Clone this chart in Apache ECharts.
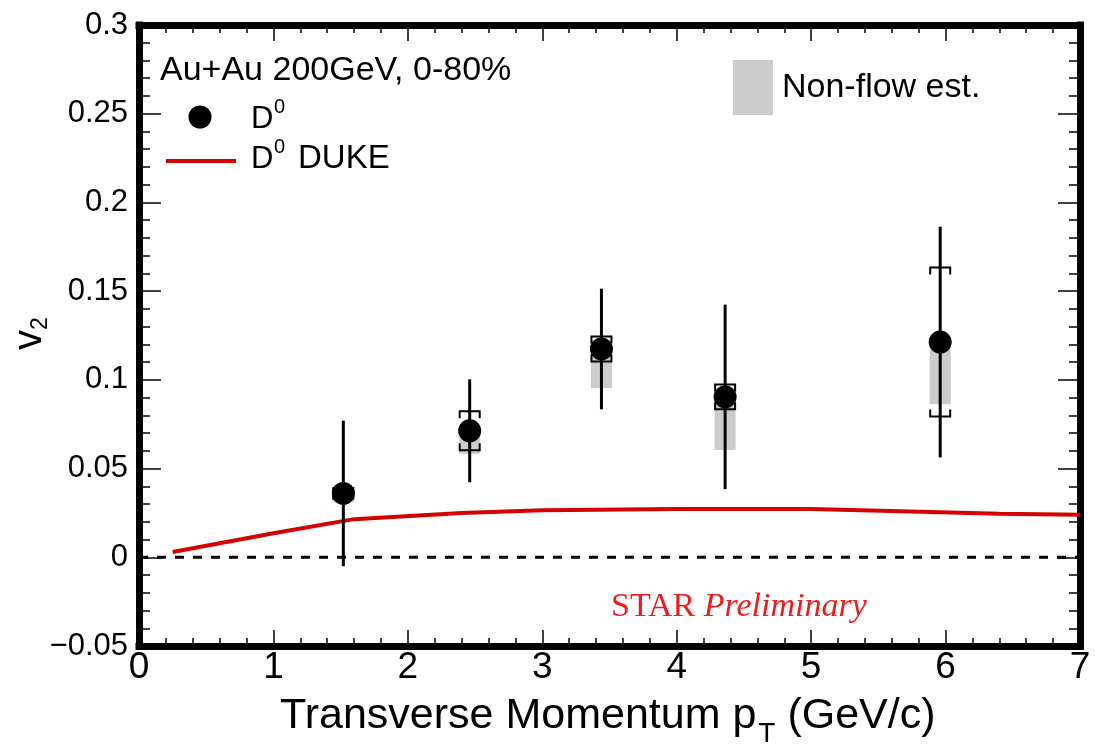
<!DOCTYPE html>
<html>
<head>
<meta charset="utf-8">
<script src="https://cdn.jsdelivr.net/npm/echarts@6/dist/echarts.min.js"></script>
<style>
  html, body { margin: 0; padding: 0; background: #ffffff; }
  #chart { width: 1095px; height: 747px; }
</style>
</head>
<body>
<div id="chart"></div>
<script>
// D0 v2 measurements, Au+Au 200 GeV, 0-80% centrality
const ptD0    = [1.52, 2.46, 3.44, 4.36, 5.96];
const v2D0    = [0.036, 0.0713, 0.1174, 0.0904, 0.1213];
const statErr = [0.041, 0.029, 0.034, 0.052, 0.065];
const sysErr  = [0.003, 0.011, 0.007, 0.007, 0.042];
const nonFlow = [0.005, 0.013, 0.022, 0.030, 0.035];

// DUKE model curve for D0
const ptDuke = [0.25, 1.0, 1.6, 2.4, 3.0, 4.0, 5.0, 6.4, 7.0];
const v2Duke = [0.003, 0.0135, 0.0215, 0.025, 0.0265, 0.0272, 0.0272, 0.0245, 0.024];

// axis ranges and tick spacing
const xRange = [0, 7];
const xStep = 1;
const yRange = [-0.05, 0.3];
const yStep = 0.05;

const SANS = "'Liberation Sans', Arial, Helvetica, sans-serif";
const SERIF = "'Liberation Serif', 'Times New Roman', serif";
const RED = '#d40000';

function textWidth(str, font) {
  const c = document.createElement('canvas').getContext('2d');
  c.font = font;
  return c.measureText(str).width;
}

function yLabel(v) {
  const r = Math.round(v * 100) / 100;
  if (r === 0) return '0';
  return r < 0 ? '\u2212' + String(-r) : String(r);
}

const chart = echarts.init(document.getElementById('chart'), null, { renderer: 'canvas' });

const frameLine = { onZero: false, lineStyle: { color: '#000', width: 7, cap: 'square' } };
function xAxisDef(pos, labels) {
  return {
    type: 'value', position: pos, min: xRange[0], max: xRange[1], interval: xStep,
    axisLine: frameLine,
    axisTick: { show: true, inside: true, length: 16, lineStyle: { color: '#000', width: 1.5 } },
    minorTick: { show: true, splitNumber: 5, length: 8, lineStyle: { color: '#000', width: 1.5 } },
    splitLine: { show: false }, minorSplitLine: { show: false },
    axisLabel: labels ? {
      show: true, color: '#000', fontFamily: SANS, fontSize: 37, margin: 3,
      showMinLabel: true, showMaxLabel: true, hideOverlap: false,
      formatter: v => String(Math.round(v))
    } : { show: false }
  };
}
function yAxisDef(pos, labels) {
  return {
    type: 'value', position: pos, min: yRange[0], max: yRange[1], interval: yStep,
    axisLine: frameLine,
    axisTick: { show: true, inside: true, length: 22, lineStyle: { color: '#000', width: 1.5 } },
    minorTick: { show: true, splitNumber: 5, length: 11, lineStyle: { color: '#000', width: 1.5 } },
    splitLine: { show: false }, minorSplitLine: { show: false },
    axisLabel: labels ? {
      show: true, color: '#000', fontFamily: SANS, fontSize: 31, margin: 11,
      showMinLabel: true, showMaxLabel: true, hideOverlap: false,
      formatter: yLabel
    } : { show: false }
  };
}

const d0Rows = ptD0.map((p, i) => [p, v2D0[i], statErr[i], sysErr[i], nonFlow[i]]);

// grey non-flow band: from v2 down to v2 - nonflow
function renderNonFlow(params, api) {
  const x = api.value(0), y = api.value(1), nf = api.value(4);
  const a = api.coord([x, y]);
  const b = api.coord([x, y - nf]);
  return {
    type: 'rect',
    shape: { x: a[0] - 10.5, y: a[1], width: 21, height: b[1] - a[1] },
    style: { fill: '#cccccc' }
  };
}

// systematic uncertainty brackets
function renderSys(params, api) {
  const x = api.value(0), y = api.value(1), e = api.value(3);
  const t = api.coord([x, y + e]);
  const b = api.coord([x, y - e]);
  const hw = 10, hook = 7;
  const st = { stroke: '#000', lineWidth: 2, fill: null };
  return {
    type: 'group',
    children: [
      { type: 'polyline', shape: { points: [[t[0] - hw, t[1] + hook], [t[0] - hw, t[1]], [t[0] + hw, t[1]], [t[0] + hw, t[1] + hook]] }, style: st },
      { type: 'polyline', shape: { points: [[b[0] - hw, b[1] - hook], [b[0] - hw, b[1]], [b[0] + hw, b[1]], [b[0] + hw, b[1] - hook]] }, style: st }
    ]
  };
}

// statistical error bars
function renderStat(params, api) {
  const x = api.value(0), y = api.value(1), e = api.value(2);
  const t = api.coord([x, y + e]);
  const b = api.coord([x, y - e]);
  return {
    type: 'line',
    shape: { x1: t[0], y1: t[1], x2: b[0], y2: b[1] },
    style: { stroke: '#000', lineWidth: 3 }
  };
}

// plot area box
const G = { left: 139, right: 15, top: 25, bottom: 101 };

const xTitleFont = '43px ' + SANS;
const xSubFont = '28px ' + SANS;
const xTitleMain = 'Transverse Momentum p';
const xTitleTail = ' (GeV/c)';
const xTitleLeft = 280;
const xMainW = textWidth(xTitleMain, xTitleFont);
const subW = textWidth('T', xSubFont);

const starFont = '34px ' + SERIF;
const starW = textWidth('STAR ', starFont);

const option = {
  animation: false,
  backgroundColor: '#ffffff',
  grid: G,
  xAxis: [xAxisDef('bottom', true), xAxisDef('top', false)],
  yAxis: [yAxisDef('left', true), yAxisDef('right', false)],
  series: [
    {
      name: 'Non-flow est.', type: 'custom', renderItem: renderNonFlow,
      data: d0Rows, encode: { x: 0, y: 1 }, z: 2, silent: true
    },
    {
      name: 'zero', type: 'line', data: [[xRange[0], 0], [xRange[1], 0]],
      symbol: 'none', lineStyle: { color: '#000', width: 3, type: [9, 9] }, z: 3, silent: true
    },
    {
      name: 'D0 DUKE', type: 'line', data: ptDuke.map((p, i) => [p, v2Duke[i]]),
      symbol: 'none', smooth: false, lineStyle: { color: RED, width: 4 }, z: 4, silent: true
    },
    {
      name: 'sys', type: 'custom', renderItem: renderSys,
      data: d0Rows, encode: { x: 0, y: 1 }, z: 5, silent: true
    },
    {
      name: 'stat', type: 'custom', renderItem: renderStat,
      data: d0Rows, encode: { x: 0, y: 1 }, z: 6, silent: true
    },
    {
      name: 'D0', type: 'scatter', data: ptD0.map((p, i) => [p, v2D0[i]]),
      symbol: 'circle', symbolSize: 23, itemStyle: { color: '#000', opacity: 1 }, z: 7, silent: true
    }
  ],
  graphic: [
    // legend block
    { type: 'text', x: 160, y: 71, style: { text: 'Au+Au 200GeV, 0-80%', font: '34px ' + SANS, fill: '#000', align: 'left', verticalAlign: 'middle' } },
    { type: 'circle', shape: { cx: 200, cy: 117, r: 11.5 }, style: { fill: '#000' } },
    { type: 'text', x: 251, y: 119, style: { text: 'D', font: '31px ' + SANS, fill: '#000', align: 'left', verticalAlign: 'middle' } },
    { type: 'text', x: 274, y: 107, style: { text: '0', font: '20px ' + SANS, fill: '#000', align: 'left', verticalAlign: 'middle' } },
    { type: 'line', shape: { x1: 166, y1: 161, x2: 236, y2: 161 }, style: { stroke: RED, lineWidth: 4 } },
    { type: 'text', x: 251, y: 159, style: { text: 'D', font: '31px ' + SANS, fill: '#000', align: 'left', verticalAlign: 'middle' } },
    { type: 'text', x: 274, y: 147, style: { text: '0', font: '20px ' + SANS, fill: '#000', align: 'left', verticalAlign: 'middle' } },
    { type: 'text', x: 298, y: 159, style: { text: 'DUKE', font: '33px ' + SANS, fill: '#000', align: 'left', verticalAlign: 'middle' } },
    { type: 'rect', shape: { x: 733, y: 60, width: 40, height: 55 }, style: { fill: '#cccccc' } },
    { type: 'text', x: 782, y: 88, style: { text: 'Non-flow est.', font: '34px ' + SANS, fill: '#000', align: 'left', verticalAlign: 'middle' } },

    // preliminary tag
    { type: 'text', x: 611, y: 607, style: { text: 'STAR', font: starFont, fill: '#ee1c1c', align: 'left', verticalAlign: 'middle' } },
    { type: 'text', x: 611 + starW, y: 607, style: { text: 'Preliminary', font: 'italic ' + starFont, fill: '#ee1c1c', align: 'left', verticalAlign: 'middle' } },

    // x axis title with subscript
    { type: 'text', x: xTitleLeft, y: 716, style: { text: xTitleMain, font: xTitleFont, fill: '#000', align: 'left', verticalAlign: 'middle' } },
    { type: 'text', x: xTitleLeft + xMainW + 2, y: 734, style: { text: 'T', font: xSubFont, fill: '#000', align: 'left', verticalAlign: 'middle' } },
    { type: 'text', x: xTitleLeft + xMainW + subW + 2, y: 716, style: { text: xTitleTail, font: xTitleFont, fill: '#000', align: 'left', verticalAlign: 'middle' } },

    // y axis title, rotated, with subscript
    {
      type: 'group', x: 30, y: 336, rotation: Math.PI / 2,
      children: [
        { type: 'text', x: -14, y: 0, style: { text: 'v', font: '40px ' + SANS, fill: '#000', align: 'left', verticalAlign: 'middle' } },
        { type: 'text', x: 6, y: 11, style: { text: '2', font: '23px ' + SANS, fill: '#000', align: 'left', verticalAlign: 'middle' } }
      ]
    }
  ]
};

chart.setOption(option);
</script>
</body>
</html>
